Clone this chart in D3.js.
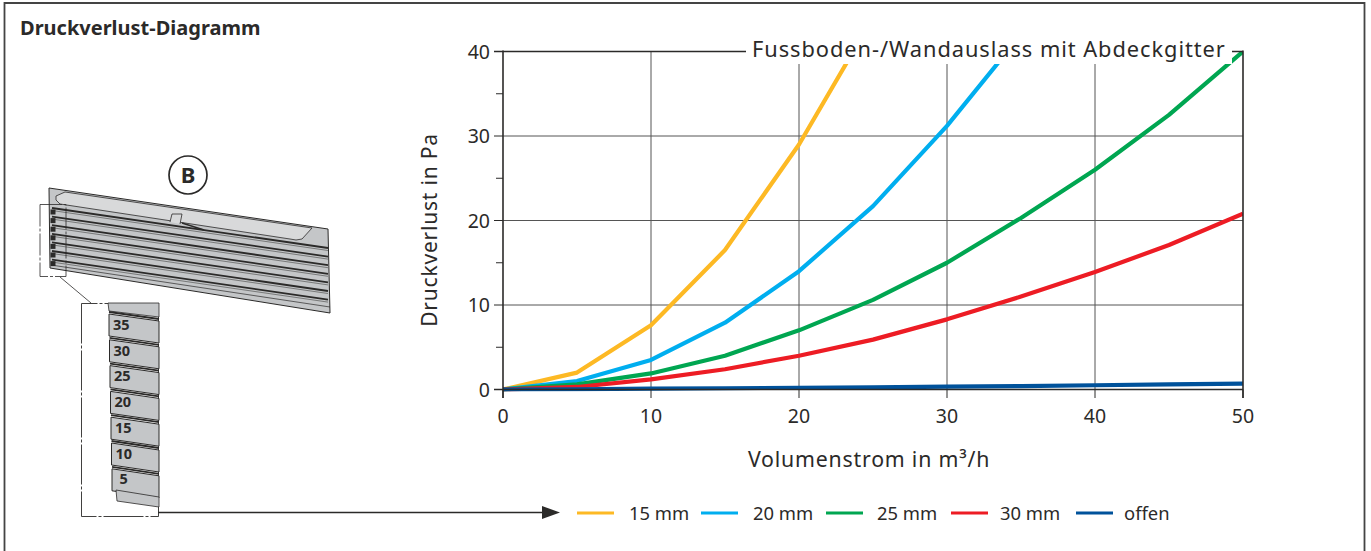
<!DOCTYPE html>
<html><head><meta charset="utf-8">
<script src="https://cdn.jsdelivr.net/npm/d3@7"></script>
<style>html,body{margin:0;padding:0;background:#fff}svg{display:block}text{font-family:"Noto Sans",sans-serif;fill:#2b2a29}</style>
</head><body><svg id="c" width="1371" height="551"></svg>
<script>
const volume5=[0,5,10,15,20,25,30,35,40,45,50];
const mm15=[0,2,7.6,16.5,29,44];
const mm20=[0,1,3.5,7.9,14,21.7,31.2,42];
const mm25=[0,0.6,1.9,4,7,10.6,15,20.3,26,32.5,40];
const mm30=[0,0.3,1.2,2.4,4,5.9,8.3,11,13.9,17.1,20.8];
const offen=[0,0.03,0.1,0.15,0.2,0.25,0.35,0.4,0.5,0.6,0.7];
const seriesNames=["15 mm","20 mm","25 mm","30 mm","offen"];
const seriesValues=[mm15,mm20,mm25,mm30,offen];
const seriesColors=["#fdb924","#00aeef","#00a651","#ed1c24","#00529b"];
const xTicks=[0,10,20,30,40,50];
const yTicks=[0,10,20,30,40];
const yMinor=[5,15,25,35];
const slatLabels=["35","30","25","20","15","10","5"];

const svg=d3.select("#c"),ink="#2b2a29";
const x=d3.scaleLinear().domain([0,50]).range([503,1243]);
const y=d3.scaleLinear().domain([0,40]).range([389.5,51.5]);

// frame (open at the bottom) and title
svg.append("path").attr("d","M4.5,551V3H1364.5V551").attr("fill","none").attr("stroke","#444").attr("stroke-width",1.8);
svg.append("text").attr("x",20).attr("y",35).attr("font-size",20).attr("font-weight",700).text("Druckverlust-Diagramm");

// grid
const g=svg.append("g");
g.selectAll(".gx").data(xTicks.slice(1,-1)).join("line").attr("x1",d=>x(d)).attr("x2",d=>x(d)).attr("y1",y(40)).attr("y2",y(0)).attr("stroke","#555").attr("stroke-width",1);
g.selectAll(".gy").data(yTicks.slice(1,-1)).join("line").attr("x1",x(0)).attr("x2",x(50)).attr("y1",d=>y(d)).attr("y2",d=>y(d)).attr("stroke","#555").attr("stroke-width",1);

// series
svg.append("clipPath").attr("id","plot").append("rect").attr("x",x(0)).attr("y",y(40)).attr("width",x(50)-x(0)).attr("height",y(0)-y(40)+2);
const line=d3.line().x((d,i)=>x(volume5[i])).y(d=>y(d));
svg.append("g").attr("clip-path","url(#plot)").selectAll("path").data(seriesValues).join("path")
  .attr("d",line).attr("fill","none").attr("stroke",(d,i)=>seriesColors[i]).attr("stroke-width",4.2).attr("stroke-linejoin","round");

// axes
const a=svg.append("g").attr("stroke",ink).attr("fill","none");
a.append("line").attr("x1",x(0)).attr("x2",x(0)).attr("y1",y(40)-1).attr("y2",398).attr("stroke-width",1.6);
a.append("line").attr("x1",x(50)).attr("x2",x(50)).attr("y1",y(40)-1).attr("y2",398).attr("stroke-width",1.6);
a.append("line").attr("x1",494).attr("x2",x(50)).attr("y1",y(0)).attr("y2",y(0)).attr("stroke-width",1.6);
a.append("line").attr("x1",494).attr("x2",x(50)).attr("y1",y(40)).attr("y2",y(40)).attr("stroke-width",1.6);
a.selectAll(".ty").data(yTicks).join("line").attr("x1",494).attr("x2",x(0)).attr("y1",d=>y(d)).attr("y2",d=>y(d)).attr("stroke-width",1);
a.selectAll(".tm").data(yMinor).join("line").attr("x1",496).attr("x2",x(0)).attr("y1",d=>y(d)).attr("y2",d=>y(d)).attr("stroke-width",1);
a.selectAll(".tx").data(xTicks).join("line").attr("x1",d=>x(d)).attr("x2",d=>x(d)).attr("y1",y(0)).attr("y2",398).attr("stroke-width",1);

svg.selectAll(".yl").data(yTicks).join("text").attr("x",490).attr("y",d=>y(d)+7).attr("text-anchor","end").attr("font-size",19.5).text(d=>d);
svg.selectAll(".xl").data(xTicks).join("text").attr("x",d=>x(d)).attr("y",423).attr("text-anchor","middle").attr("font-size",19.5).text(d=>d);
svg.append("text").attr("transform","translate(437,230) rotate(-90)").attr("text-anchor","middle").attr("font-size",21).attr("letter-spacing",0.8).text("Druckverlust in Pa");
svg.append("text").attr("x",869).attr("y",467).attr("text-anchor","middle").attr("font-size",21.3).attr("letter-spacing",0.8).text("Volumenstrom in m³/h");

// chart title over the top rule
svg.append("rect").attr("x",746).attr("y",40).attr("width",486).attr("height",24).attr("fill","#fff");
svg.append("text").attr("x",752).attr("y",57).attr("font-size",21.8).attr("letter-spacing",0.95).text("Fussboden-/Wandauslass mit Abdeckgitter");

// legend
const lgX=[577,701,826,951,1076],lgT=[629,753,877,1000,1124];
svg.selectAll(".lg").data(seriesNames).join("line").attr("x1",(d,i)=>lgX[i]).attr("x2",(d,i)=>lgX[i]+37).attr("y1",513).attr("y2",513).attr("stroke",(d,i)=>seriesColors[i]).attr("stroke-width",3);
svg.selectAll(".lt").data(seriesNames).join("text").attr("x",(d,i)=>lgT[i]).attr("y",520).attr("font-size",18.4).text(d=>d);

// illustration: grille
const fillG="#c4c6c8",il=svg.append("g").attr("stroke",ink);
il.append("path").attr("d","M49,188L328,229L330,313L50,268Z").attr("fill",fillG).attr("stroke-width",1);
il.append("path").attr("d","M56,200L56,196L65,192L312,228L302,239Q296,241 290,239L60,204Z").attr("fill","#d8d9da").attr("stroke-width",.8);
il.append("path").attr("d","M170,222L172,214L182,214L180,224").attr("fill","#d8d9da").attr("stroke-width",.8);
il.append("path").attr("d","M182,223L204,230").attr("fill","none").attr("stroke-width",1.4);
const slatRows=d3.range(7);
il.selectAll(".s").data(slatRows).join("path").attr("d",d=>`M52,${208+d*8.6}L328,${248+d*8.6}`).attr("fill","none").attr("stroke-width",1.8);
il.selectAll(".s2").data(slatRows).join("path").attr("d",d=>`M52,${210.5+d*8.6}L328,${250.5+d*8.6}`).attr("fill","none").attr("stroke-width",.5);
il.selectAll(".t").data(slatRows).join("rect").attr("x",50.5).attr("y",d=>209.5+d*8.6).attr("width",5).attr("height",5).attr("fill",ink).attr("stroke","none");
il.append("path").attr("d","M51,265L330,307").attr("fill","none").attr("stroke-width",.7);

// dash-dot callouts
il.append("rect").attr("x",40).attr("y",204.5).attr("width",26).attr("height",72).attr("fill","none").attr("stroke-width",.8).attr("stroke-dasharray","22 2 3 2");
il.append("line").attr("x1",60).attr("y1",277).attr("x2",91).attr("y2",303).attr("stroke-width",.8);
il.append("path").attr("d","M81.5,303.5V516.5H158.5V303.5H81.5").attr("fill","none").attr("stroke-width",.9).attr("stroke-dasharray","40 2 3 2");

// zoomed slats
il.append("path").attr("d","M108,303H159V317L109,311Z").attr("fill",fillG).attr("stroke-width",.8);
const slat=il.selectAll(".z").data(slatLabels).join("g").attr("transform",(d,i)=>`translate(0,${312+i*25.8})`);
slat.append("path").attr("d",(d,i)=>`M${109+i*.5},2L159,9V31L${109+i*.5},24Z`).attr("fill",fillG).attr("stroke-width",1);
slat.append("path").attr("d",(d,i)=>`M${109+i*.5},0L159,7`).attr("fill","none").attr("stroke-width",1.8);
svg.selectAll(".zt").data(slatLabels).join("text").attr("x",(d,i)=>113+i*.5+(d==="5"?3.5:0)).attr("y",(d,i)=>330+i*25.7).attr("font-size",14.5).attr("font-weight",700).text(d=>d);
il.append("path").attr("d","M116,490L159,497V507L117,501Z").attr("fill",fillG).attr("stroke-width",.8);

// marker B
il.append("circle").attr("cx",188).attr("cy",175).attr("r",19).attr("fill","#fff").attr("stroke-width",1.7);
svg.append("text").attr("x",188).attr("y",183).attr("text-anchor","middle").attr("font-size",22).attr("font-weight",700).text("B");

// arrow
il.append("line").attr("x1",158).attr("x2",545).attr("y1",512.5).attr("y2",512.5).attr("stroke-width",1.6);
il.append("path").attr("d","M542,506L560,512.5L542,519Z").attr("fill",ink).attr("stroke","none");
</script></body></html>
